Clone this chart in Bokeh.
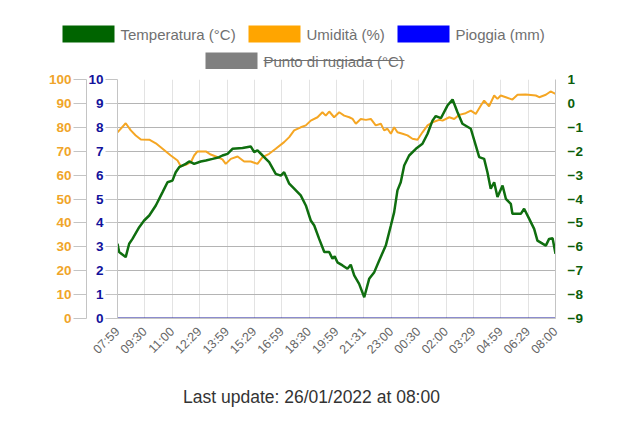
import math
from bokeh.plotting import figure
from bokeh.models import Range1d, LinearAxis, FixedTicker, Grid
from bokeh.layouts import column
from bokeh.embed import file_html
from bokeh.resources import INLINE
from bokeh.core.properties import value

FONT = "Liberation Sans"

# ---------------- data ----------------
series_names = ["Temperatura (°C)", "Umidità (%)", "Pioggia (mm)", "Punto di rugiada (°C)"]
series_colors = ["#006400", "#FFA500", "#0000FF", "#808080"]
series_hidden = [False, False, False, True]

time_labels = ["07:59", "09:30", "11:00", "12:29", "13:59", "15:29", "16:59", "18:30",
               "19:59", "21:31", "23:00", "00:30", "02:00", "03:29", "04:59", "06:29", "08:00"]

# hours elapsed since 07:59
temp_hours = [0.00, 0.09, 0.45, 0.64, 0.82, 1.19, 1.46, 1.74, 2.10, 2.47, 2.74, 3.01, 3.19, 3.38,
              3.74, 3.93, 4.20, 4.56, 4.84, 5.21, 5.57, 5.75, 6.03, 6.30, 6.85, 7.30, 7.49, 7.67,
              7.95, 8.31, 8.67, 8.95, 9.13, 9.41, 9.68, 10.04, 10.32, 10.59, 10.78, 11.05, 11.33,
              11.60, 11.78, 11.90, 12.05, 12.33, 12.60, 12.78, 12.97, 13.24, 13.52, 13.79, 14.07,
              14.34, 14.70, 14.98, 15.16, 15.34, 15.52, 15.71, 15.98, 16.35, 16.71, 16.99, 17.26,
              17.44, 17.72, 18.08, 18.36, 18.63, 18.90, 19.36, 19.63, 19.82, 20.09, 20.27, 20.45,
              20.64, 20.82, 21.10, 21.28, 21.55, 21.64, 22.10, 22.28, 22.56, 22.83, 23.01, 23.29,
              23.47, 23.65, 23.84, 24.00]
temp_c = [-5.87, -6.22, -6.43, -5.87, -5.67, -5.18, -4.90, -4.69, -4.27, -3.71, -3.30, -3.23, -2.88, -2.67,
          -2.53, -2.43, -2.53, -2.43, -2.39, -2.32, -2.25, -2.18, -2.11, -1.90, -1.87, -1.80, -2.04, -1.97,
          -2.18, -2.46, -2.95, -3.02, -2.88, -3.36, -3.57, -3.85, -4.27, -4.90, -5.11, -5.67, -6.22,
          -6.22, -6.50, -6.40, -6.65, -6.78, -6.92, -6.75, -7.20, -7.55, -8.11, -7.34, -7.06,
          -6.57, -5.95, -5.11, -4.55, -3.64, -3.30, -2.60, -2.18, -1.90, -1.69, -1.27, -0.72,
          -0.53, -0.62, -0.09, 0.16, -0.37, -0.85, -1.06, -1.76, -2.25, -2.32, -2.88, -3.57,
          -3.30, -3.92, -3.44, -3.99, -4.20, -4.62, -4.62, -4.41, -4.83, -5.25, -5.74, -5.87,
          -5.95, -5.67, -5.64, -6.29]

hum_hours = [0.00, 0.45, 0.73, 1.00, 1.28, 1.74, 2.10, 2.47, 2.92, 3.29, 3.47, 3.74, 4.02, 4.20,
             4.38, 4.84, 5.11, 5.39, 5.75, 5.93, 6.21, 6.58, 6.94, 7.30, 7.67, 7.95, 8.31, 8.67,
             9.13, 9.41, 9.68, 10.04, 10.32, 10.59, 10.96, 11.23, 11.41, 11.60, 11.87, 12.15,
             12.42, 12.70, 12.88, 13.06, 13.33, 13.61, 13.88, 14.15, 14.43, 14.61, 14.79, 14.98,
             15.16, 15.34, 15.62, 15.89, 16.16, 16.44, 16.71, 16.99, 17.26, 17.63, 17.81, 18.18,
             18.45, 18.72, 19.08, 19.36, 19.63, 19.91, 20.09, 20.36, 20.64, 20.82, 21.00, 21.28,
             21.64, 21.92, 22.37, 22.92, 23.11, 23.47, 23.73, 24.00]
humidity = [77.9, 81.7, 78.7, 76.6, 74.9, 74.8, 73.3, 71.0, 68.2, 66.1, 63.7, 64.3, 65.4, 68.2,
            69.9, 69.9, 68.6, 67.8, 66.6, 64.7, 66.8, 67.8, 65.7, 65.7, 64.7, 67.5, 68.9, 71.0,
            73.8, 75.9, 78.7, 80.0, 80.8, 82.8, 84.2, 86.3, 84.9, 86.6, 84.2, 86.3,
            84.9, 84.2, 83.5, 81.5, 83.5, 83.1, 83.5, 80.8, 81.5, 78.7, 79.4, 77.3,
            80.0, 77.9, 77.3, 76.6, 75.2, 74.8, 77.9, 80.8, 82.1, 83.1, 82.8, 84.2,
            83.5, 85.2, 85.9, 87.0, 85.6, 89.1, 91.2, 88.8, 93.3, 91.9, 93.3, 92.6,
            91.6, 93.6, 93.7, 93.3, 92.6, 93.6, 95.0, 94.0]

rain_hours = [0.0, 24.0]
rain_mm = [0.0, 0.0]

hum_ticks = [0, 10, 20, 30, 40, 50, 60, 70, 80, 90, 100]
rain_ticks = [0, 1, 2, 3, 4, 5, 6, 7, 8, 9, 10]
temp_ticks = [-9, -8, -7, -6, -5, -4, -3, -2, -1, 0, 1]

footer_text = "Last update: 26/01/2022 at 08:00"

# ---------------- styling constants ----------------
GRID_H = "#b4b4b4"
GRID_V = "#e3e3e3"
AXIS_LINE = "#c4c4c4"
HUM_LABEL = "#f0a52a"
RAIN_LABEL = "#12129c"
TEMP_LABEL = "#0b5e0b"

# ---------------- legend strip ----------------
LEG_H = 69
leg = figure(width=640, height=LEG_H, x_range=Range1d(0, 640), y_range=Range1d(LEG_H, 0),
             toolbar_location=None, output_backend="svg", min_border=0,
             x_axis_location=None, y_axis_location=None, frame_align=False)
leg.outline_line_color = None
leg.xgrid.visible = False
leg.ygrid.visible = False

box_left = [62, 248, 397, 205]
box_top = [25, 25, 25, 52]
box_w, box_h = 52, 17
leg.quad(left=box_left, right=[b + box_w for b in box_left],
         top=box_top, bottom=[t + box_h for t in box_top],
         fill_color=series_colors, line_color=None)
text_x = [b + box_w + 6 for b in box_left]
text_y = [t + box_h / 2 + 0.5 for t in box_top]
leg.text(x=text_x, y=text_y, text=series_names, text_font=value(FONT),
         text_font_size="15px", text_color="#707070", text_baseline="middle", text_align="left")
# strike-through for the hidden series
for i, hidden in enumerate(series_hidden):
    if hidden:
        leg.segment(x0=[text_x[i]], y0=[text_y[i] - 1], x1=[text_x[i] + 141], y1=[text_y[i] - 1],
                    line_color="#707070", line_width=1)

# ---------------- main chart ----------------
n = len(time_labels)
x_ticks = [i * 24 / (n - 1) for i in range(n)]
overrides = {}
for t, lab in zip(x_ticks, time_labels):
    overrides[int(t) if t == int(t) else t] = lab

main = figure(width=640, height=306, x_range=Range1d(0, 24), y_range=Range1d(0, 100),
              y_axis_location=None, toolbar_location=None, output_backend="svg",
              min_border_left=117, min_border_right=85, min_border_top=10, min_border_bottom=57,
              frame_align=False)
main.extra_y_ranges = {"rain": Range1d(0, 10), "temp": Range1d(-9, 1)}
main.outline_line_color = None

xa = main.xaxis[0]
xa.ticker = FixedTicker(ticks=x_ticks)
xa.major_label_overrides = overrides
xa.major_label_orientation = math.pi / 4
xa.major_label_text_font = FONT
xa.major_label_text_font_size = "12.5px"
xa.major_label_text_color = "#666666"
xa.axis_line_color = AXIS_LINE
xa.major_tick_line_color = None
xa.minor_tick_line_color = None
xa.major_label_standoff = 5
main.xgrid.grid_line_color = GRID_V

def style_axis(ax, color, tick_out, standoff):
    ax.major_label_text_font = FONT
    ax.major_label_text_font_size = "13.5px"
    ax.major_label_text_font_style = "bold"
    ax.major_label_text_color = color
    ax.major_tick_out = tick_out
    ax.major_tick_in = 0
    ax.major_tick_line_color = AXIS_LINE if tick_out else None
    ax.minor_tick_line_color = None
    ax.axis_line_color = AXIS_LINE
    ax.major_label_standoff = standoff

rain_axis = LinearAxis(y_range_name="rain", ticker=FixedTicker(ticks=rain_ticks),
                       axis_label=" ", axis_label_standoff=-5, axis_label_text_font_size="1px")
style_axis(rain_axis, RAIN_LABEL, 12, 2)
hum_axis = LinearAxis(ticker=FixedTicker(ticks=hum_ticks))
style_axis(hum_axis, HUM_LABEL, 13, 2)
temp_axis = LinearAxis(y_range_name="temp", ticker=FixedTicker(ticks=temp_ticks))
style_axis(temp_axis, TEMP_LABEL, 0, 12)

main.add_layout(rain_axis, "left")
main.add_layout(hum_axis, "left")
main.add_layout(temp_axis, "right")
main.add_layout(Grid(dimension=1, ticker=FixedTicker(ticks=hum_ticks), grid_line_color=GRID_H))

main.line(hum_hours, humidity, line_color="#f5a623", line_width=2)
main.line(temp_hours, temp_c, y_range_name="temp", line_color="#0f6e0f", line_width=2.5)
main.line(rain_hours, rain_mm, y_range_name="rain", line_color="#1a1a9e", line_width=2)

# ---------------- footer ----------------
FOOT_H = 51
foot = figure(width=640, height=FOOT_H, x_range=Range1d(0, 640), y_range=Range1d(FOOT_H, 0),
              toolbar_location=None, output_backend="svg", min_border=0,
              x_axis_location=None, y_axis_location=None, frame_align=False)
foot.outline_line_color = None
foot.xgrid.visible = False
foot.ygrid.visible = False
foot.text(x=[311], y=[21], text=[footer_text], text_font=value(FONT), text_font_size="17.5px",
          text_color="#333333", text_align="center", text_baseline="middle")

layout = column(leg, main, foot, spacing=0)
open("out.html", "w").write(file_html(layout, INLINE))
